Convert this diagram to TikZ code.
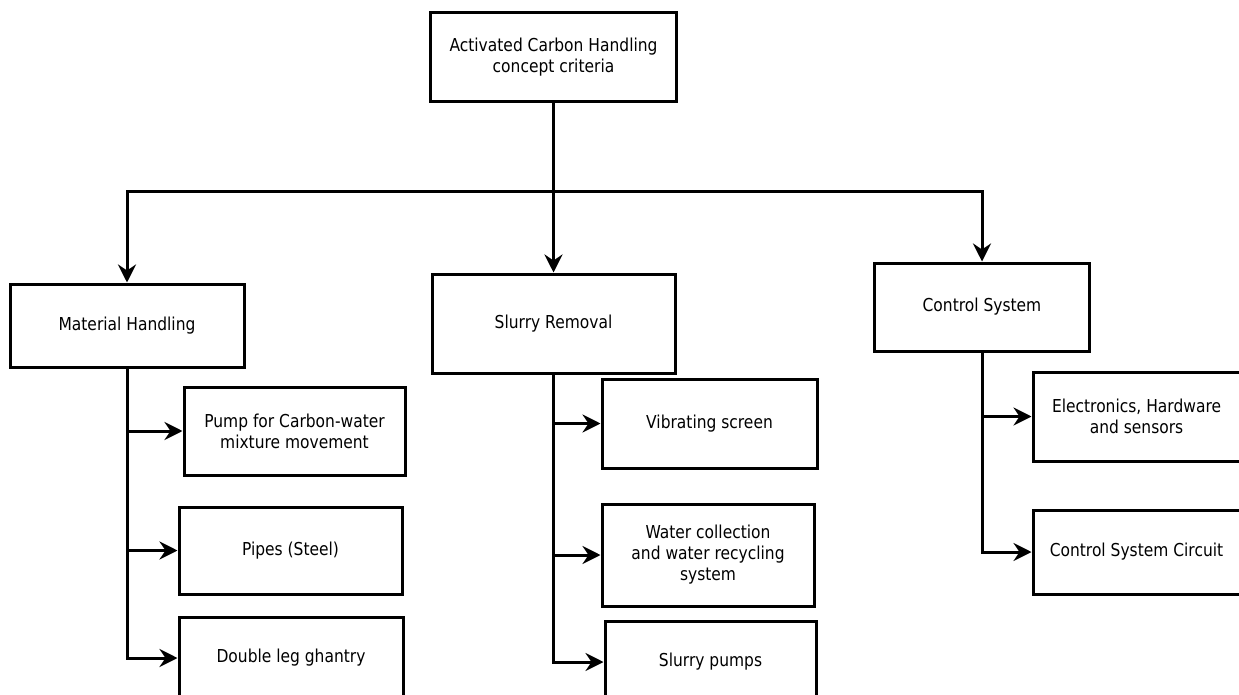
\documentclass[tikz,border=0pt]{standalone}
\usepackage{fontspec}
\setmainfont{DejaVu Sans}[FakeStretch=0.87]
\usetikzlibrary{arrows.meta}
\tikzset{
    critbox/.style={
        draw,
        rectangle,
        line width=3pt,
        fill=white,
        inner sep=0pt,
        align=center,
        font=\fontsize{17.8}{21}\selectfont
    },
    link/.style={
        draw,
        line width=3pt,
        line cap=rect
    },
    flow/.style={
        draw,
        line width=3pt,
        -{Stealth[length=18pt, width=18pt, inset=6pt]}
    }
}

\begin{document}
\begin{tikzpicture}[x=1pt, y=-1pt]
    \useasboundingbox (0,0) rectangle (1239,695);
    % Boxes - top level
    \node[critbox, minimum width=246pt, minimum height=89pt] (top) at (553.5,57.5) {Activated Carbon Handling\\concept criteria};
    \node[critbox, minimum width=234pt, minimum height=83pt] (mh) at (127,325.5) {Material Handling};
    \node[critbox, minimum width=243pt, minimum height=99pt] (sr) at (553.5,323.5) {Slurry Removal};
    \node[critbox, minimum width=215pt, minimum height=88pt] (cs) at (982,307) {Control System};

    % Boxes - sub items
    \node[critbox, minimum width=221pt, minimum height=88pt] (pump) at (294.5,431) {Pump for Carbon-water\\mixture movement};
    \node[critbox, minimum width=223pt, minimum height=87pt] (pipes) at (290.5,550.5) {Pipes (Steel)};
    \node[critbox, minimum width=224pt, minimum height=82pt] (gantry) at (291,658) {Double leg ghantry};
    \node[critbox, minimum width=215pt, minimum height=89pt] (screen) at (709.5,423.5) {Vibrating screen};
    \node[critbox, minimum width=212pt, minimum height=102pt] (water) at (708,555) {Water collection\\and water recycling\\system};
    \node[critbox, minimum width=211pt, minimum height=82pt] (spumps) at (710.5,662) {Slurry pumps};
    \node[critbox, minimum width=207pt, minimum height=89pt] (elec) at (1136.5,416.5) {Electronics, Hardware\\and sensors};
    \node[critbox, minimum width=207pt, minimum height=84pt] (circuit) at (1136.5,552) {Control System Circuit};

    % Edges
    \coordinate (busL) at (127,192);
    \coordinate (busR) at (982,192);
    \draw[link] (busL) -- (busR);
    \draw[flow] (top.south) -- (sr.north);
    \draw[flow] (busL) -- (mh.north);
    \draw[flow] (busR) -- (cs.north);

    \draw[flow] (mh.south) |- (pump.west);
    \draw[flow] (mh.south) |- (pipes.west);
    \draw[flow] (mh.south) |- (gantry.west);
    \draw[flow] (sr.south) |- (screen.west);
    \draw[flow] (sr.south) |- (water.west);
    \draw[flow] (sr.south) |- (spumps.west);
    \draw[flow] (cs.south) |- (elec.west);
    \draw[flow] (cs.south) |- (circuit.west);
\end{tikzpicture}
\end{document}
